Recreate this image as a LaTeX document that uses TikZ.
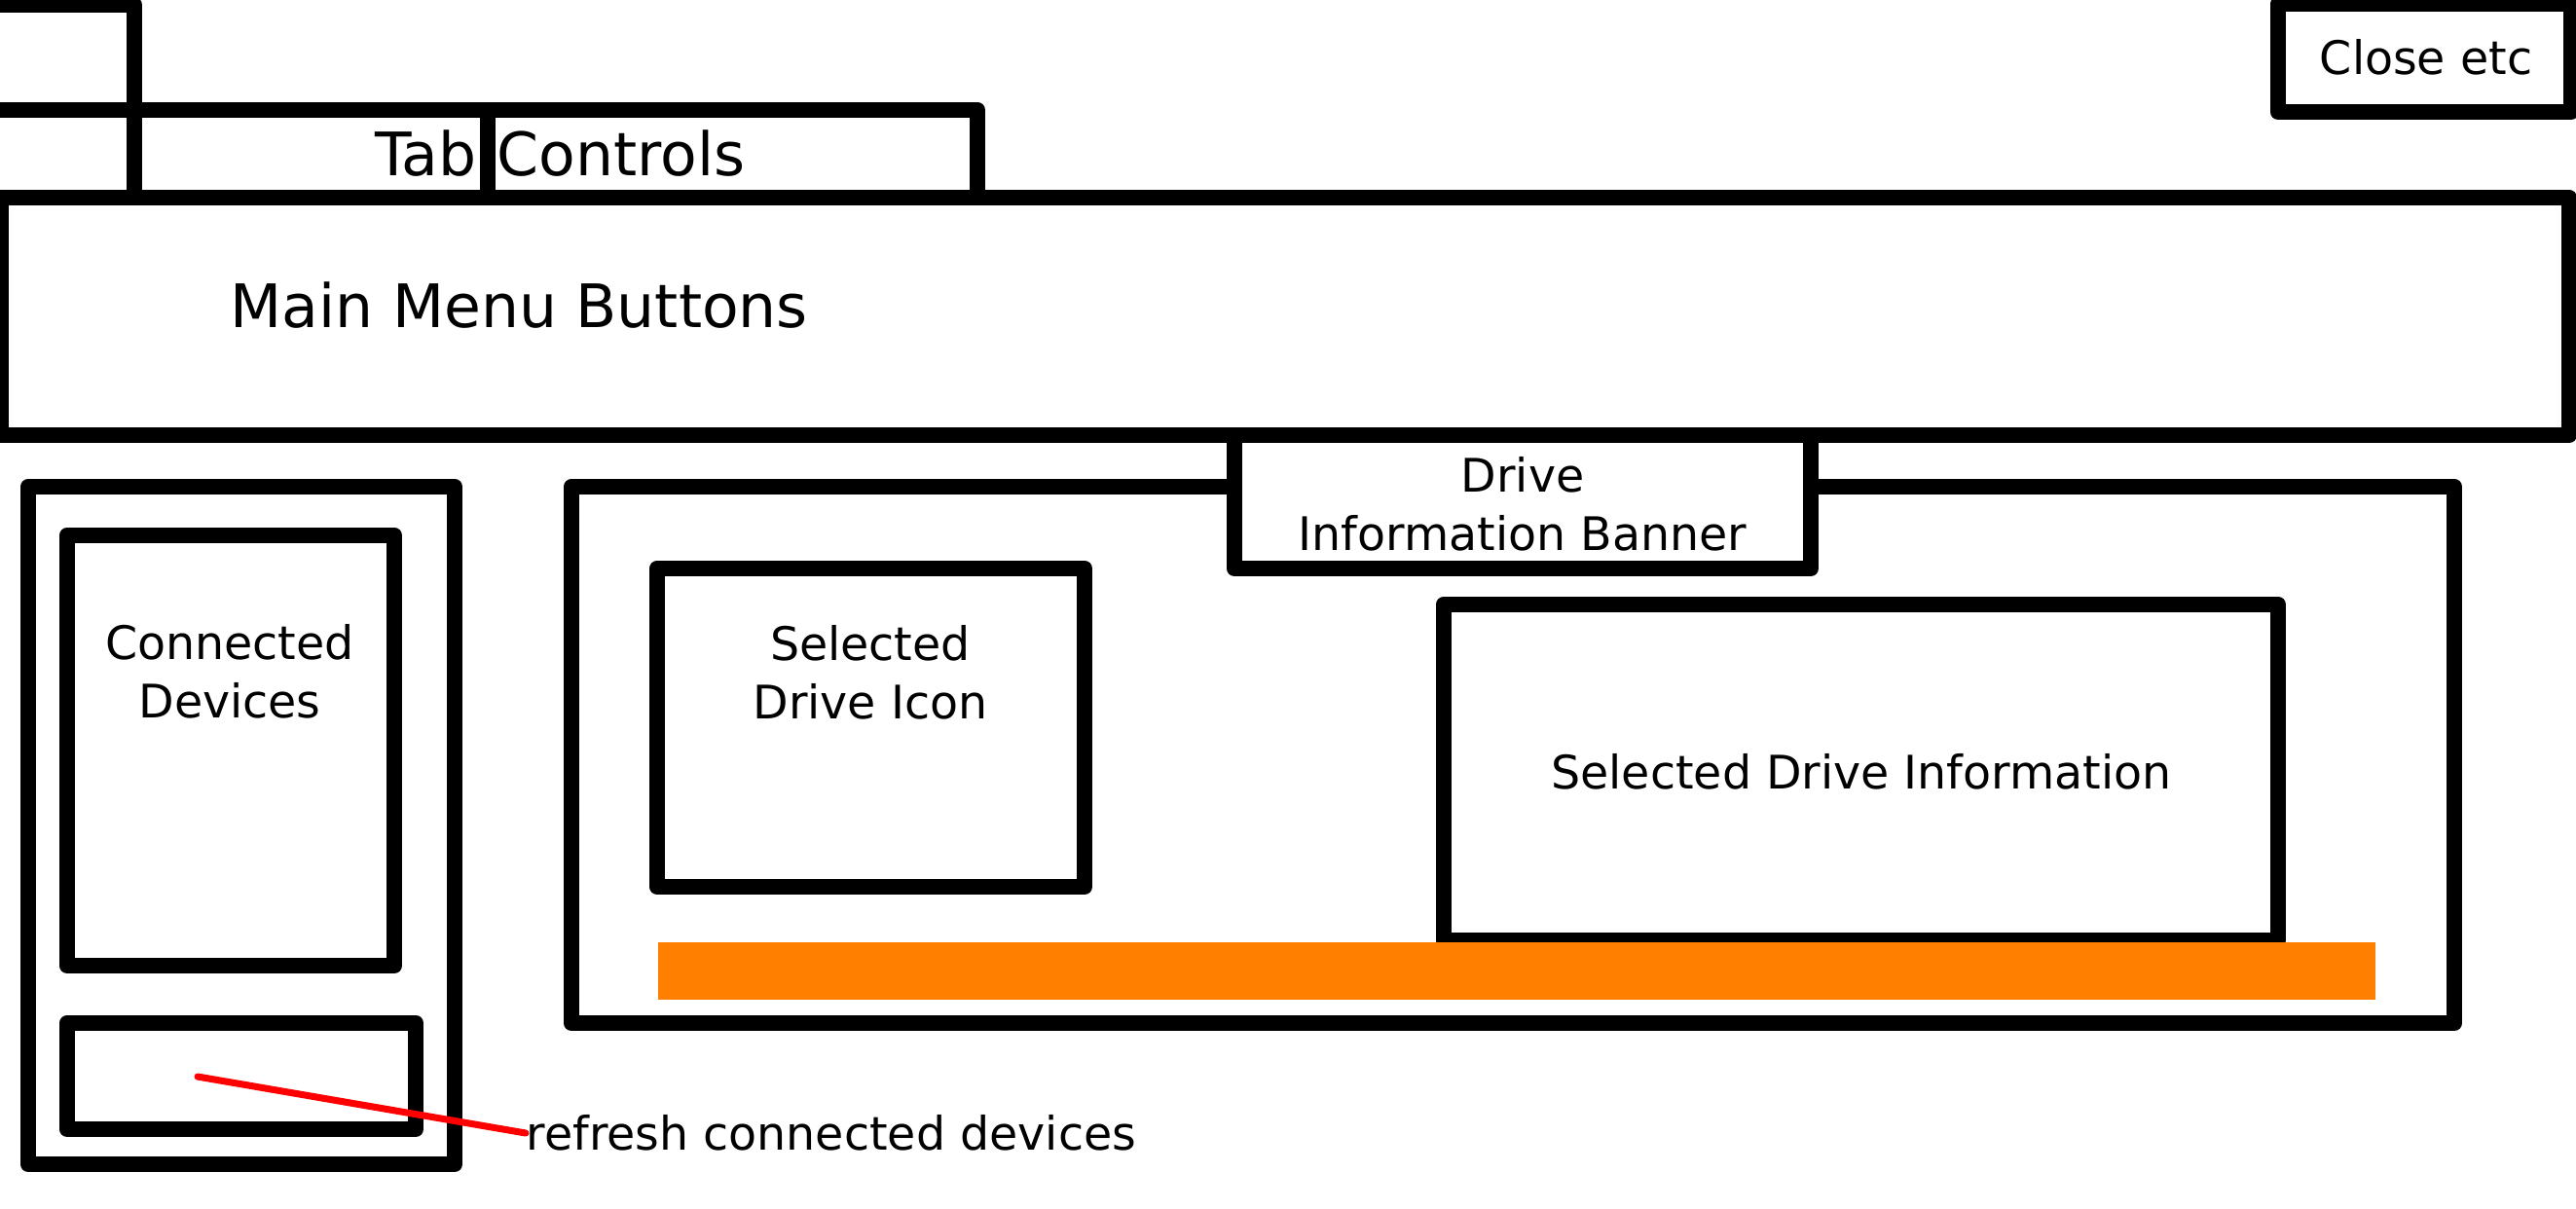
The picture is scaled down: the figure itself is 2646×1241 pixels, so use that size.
\documentclass[tikz,border=0pt]{standalone}
\usepackage{fontspec}
\setmainfont{DejaVu Sans}
\definecolor{barorange}{RGB}{255,128,0}
\tikzset{
  frame/.style={line width=4.6pt, line join=round},
  small/.style={font=\fontsize{13.5}{17.2}\selectfont, align=center, inner sep=0pt},
  big/.style={font=\fontsize{17.5}{21}\selectfont, inner sep=0pt},
}
\begin{document}
\begin{tikzpicture}[x=0.01cm,y=-0.01cm]
\useasboundingbox (0,0) rectangle (2646,1241);
% window top
\draw[frame] (-30,5) rectangle (138,113);
\draw[frame] (138,113) rectangle (1004,203);
\draw[frame] (501,113) -- (501,203);
\node[big, anchor=east] (tab) at (490,158) {Tab};
\node[big, anchor=west] (controls) at (510,158) {Controls};
\draw[frame] (2340,4) rectangle (2641,115);
\node[small] (close) at (2492,59) {Close etc};
\draw[frame] (1,203) rectangle (2639,447);
\node[big, anchor=west] (menu) at (236,314) {Main Menu Buttons};
% devices column
\draw[frame] (29,500) rectangle (467,1196);
\draw[frame] (69,550) rectangle (405,992);
\node[small] (devices) at (236,690) {Connected\\Devices};
\draw[frame] (69,1051) rectangle (427,1160);
\coordinate (tip) at (203,1106);
\node[small, anchor=west] (refresh) at (540,1164) {refresh connected devices};
\draw[red, line width=2pt, line cap=round] (tip) -- (refresh.west);
% drive panel
\draw[frame] (587,500) rectangle (2521,1051);
\draw[frame, fill=white] (1268,447) rectangle (1860,584);
\node[small] (banner) at (1564,518) {Drive\\Information Banner};
\draw[frame] (675,584) rectangle (1114,911);
\node[small] (icon) at (894,691) {Selected\\Drive Icon};
\draw[frame] (1483,621) rectangle (2340,966);
\node[small] (info) at (1912,793) {Selected Drive Information};
\fill[barorange] (676,968) rectangle (2440,1027);
\end{tikzpicture}
\end{document}
